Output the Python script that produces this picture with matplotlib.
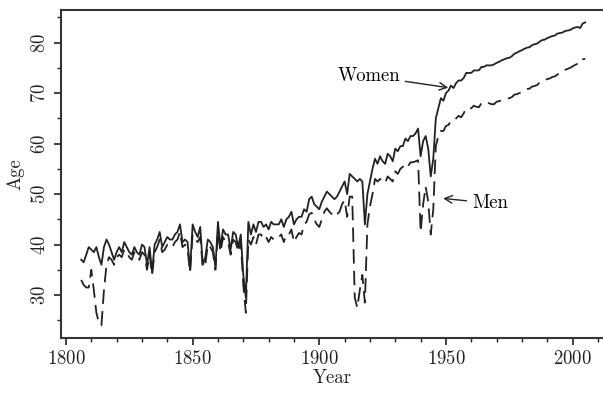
import matplotlib
matplotlib.use("Agg")
import matplotlib.pyplot as plt
import numpy as np
from matplotlib.ticker import MultipleLocator

plt.rcParams['font.family'] = ['cmr10', 'DejaVu Serif']
plt.rcParams['axes.formatter.use_mathtext'] = True

years = np.arange(1806, 2006)

# life expectancy at birth
women = [
    37.0, 36.5, 38.0, 39.5,
    39.0, 38.5, 39.5, 37.5, 36.0, 39.5, 41.0, 40.0, 38.5, 37.0,
    38.5, 39.5, 38.5, 40.5, 39.5, 38.5, 38.0, 39.5, 38.5, 38.0,
    40.0, 39.5, 36.0, 39.5, 34.5, 40.0, 41.0, 42.5, 39.5, 40.5,
    41.5, 41.0, 41.0, 42.0, 42.5, 44.0, 40.5, 41.0, 40.5, 35.0,
    44.0, 42.5, 41.5, 43.5, 36.0, 37.5, 41.0, 40.5, 39.5, 35.5,
    44.5, 39.5, 43.0, 42.0, 42.0, 39.0, 42.5, 42.0, 39.5, 42.0,
    34.0, 29.5, 44.5, 42.0, 44.0, 42.5, 44.5, 44.5, 43.5, 44.0,
    43.0, 44.5, 44.0, 44.0, 44.0, 45.0, 43.5, 45.0, 45.5, 46.5,
    44.0, 45.0, 45.5, 45.5, 47.0, 46.5, 49.0, 49.5, 48.0, 47.5,
    47.0, 48.5, 49.5, 50.5, 50.0, 49.5, 49.0, 49.5, 50.5, 51.5,
    52.5, 50.0, 54.0, 53.5, 53.0, 52.5, 53.0, 52.5, 44.0, 50.0,
    52.5, 55.0, 57.0, 56.0, 57.5, 56.5, 56.0, 58.0, 57.5, 56.5,
    59.0, 58.5, 59.5, 59.5, 61.0, 60.5, 61.5, 61.5, 62.0, 63.0,
    57.5, 60.5, 61.5, 59.0, 53.5, 57.0, 65.0, 67.0, 69.0, 68.5,
    70.0, 70.5, 71.5, 71.0, 72.0, 72.5, 72.5, 73.0, 74.0, 74.0,
    74.0, 74.5, 74.5, 74.5, 75.2, 75.2, 75.5, 75.5, 75.5, 75.7,
    76.0, 76.2, 76.5, 76.7, 76.9, 77.0, 77.3, 77.8, 78.0, 78.3,
    78.5, 78.8, 79.0, 79.1, 79.5, 79.7, 79.8, 80.2, 80.5, 80.6,
    80.9, 81.1, 81.3, 81.4, 81.8, 81.9, 82.0, 82.3, 82.4, 82.5,
    82.8, 83.0, 83.1, 82.9, 83.8, 84.0,
]

men = [
    33.0, 32.0, 31.5, 31.5,
    35.0, 31.0, 26.5, 24.5, 24.0, 31.0, 36.0, 37.5, 37.0, 36.0,
    37.5, 38.0, 37.5, 39.0, 38.5, 37.5, 37.0, 38.5, 37.5, 37.0,
    38.5, 38.0, 35.0, 38.0, 34.0, 38.5, 39.5, 41.0, 38.5, 39.0,
    40.0, 39.5, 39.5, 40.5, 41.0, 42.5, 39.5, 40.0, 39.0, 34.5,
    42.0, 41.0, 40.5, 41.5, 35.5, 36.0, 40.0, 39.5, 38.5, 35.0,
    42.5, 38.5, 41.5, 40.5, 40.5, 38.0, 41.0, 40.5, 38.5, 40.5,
    32.0, 26.5, 41.0, 40.0, 41.5, 40.0, 42.0, 42.0, 41.0, 41.5,
    40.5, 41.5, 41.0, 41.5, 41.5, 42.0, 40.5, 42.0, 42.0, 43.0,
    40.5, 41.5, 42.3, 42.0, 44.0, 44.5, 46.0, 46.3, 45.0, 44.0,
    43.5, 45.0, 46.5, 47.2, 46.5, 46.0, 45.5, 46.0, 46.5, 48.0,
    48.8, 45.5, 49.5, 49.5, 29.5, 27.5, 31.0, 34.0, 28.5, 44.0,
    47.5, 50.0, 53.0, 52.5, 53.0, 52.5, 52.2, 53.5, 53.0, 52.5,
    54.5, 54.0, 55.0, 55.4, 56.0, 55.5, 56.3, 56.3, 56.5, 56.7,
    42.5, 48.0, 51.5, 48.5, 42.0, 47.0, 59.5, 61.5, 62.5, 62.5,
    63.5, 63.7, 64.5, 64.5, 65.0, 65.5, 65.2, 66.0, 67.0, 67.0,
    67.0, 67.5, 67.3, 67.2, 68.0, 67.8, 68.0, 68.0, 67.8, 67.8,
    68.3, 68.4, 68.6, 68.7, 68.9, 69.0, 69.2, 69.7, 69.8, 70.0,
    70.3, 70.5, 70.8, 70.9, 71.3, 71.4, 71.6, 72.1, 72.4, 72.5,
    72.8, 72.9, 73.2, 73.3, 73.7, 73.9, 74.1, 74.6, 74.8, 75.0,
    75.3, 75.6, 75.8, 75.8, 76.7, 76.8,
]

fig = plt.figure(figsize=(6.03, 3.93), dpi=100)
ax = fig.add_axes([0.101, 0.14, 0.899, 0.835])

ax.plot(years, men, color='#222222', lw=1.3, dashes=(8, 4))
ax.plot(years, women, color='#222222', lw=1.3)

ax.annotate('Women', xy=(1952, 71.0), xytext=(1931.8, 73.4),
            ha='right', va='center', fontsize=13.5,
            arrowprops=dict(arrowstyle='->', lw=1.0, color='#222222'))
ax.annotate('Men', xy=(1947.8, 49.2), xytext=(1960.3, 48.2),
            ha='left', va='center', fontsize=13.5,
            arrowprops=dict(arrowstyle='->', lw=1.0, color='#222222'))

ax.set_xlim(1798, 2012)
ax.set_ylim(21.5, 86.5)
ax.xaxis.set_major_locator(MultipleLocator(50))
ax.xaxis.set_minor_locator(MultipleLocator(10))
ax.yaxis.set_major_locator(MultipleLocator(10))
ax.yaxis.set_minor_locator(MultipleLocator(5))
ax.tick_params(which='major', direction='out', length=5, width=1.2, labelsize=13.5, colors='#222222')
ax.tick_params(which='minor', direction='out', length=3, width=1.0, colors='#222222')
for lab in ax.get_yticklabels():
    lab.set_rotation(90)
    lab.set_va('center')

ax.set_xlabel('Year', fontsize=13.5, color='#222222', labelpad=1)
ax.set_ylabel('Age', fontsize=13.5, color='#222222', labelpad=5)

for side in ['left', 'bottom', 'top']:
    ax.spines[side].set_linewidth(1.5)
    ax.spines[side].set_color('#333333')
ax.spines['right'].set_visible(False)

fig.savefig('out.png', dpi=100)
